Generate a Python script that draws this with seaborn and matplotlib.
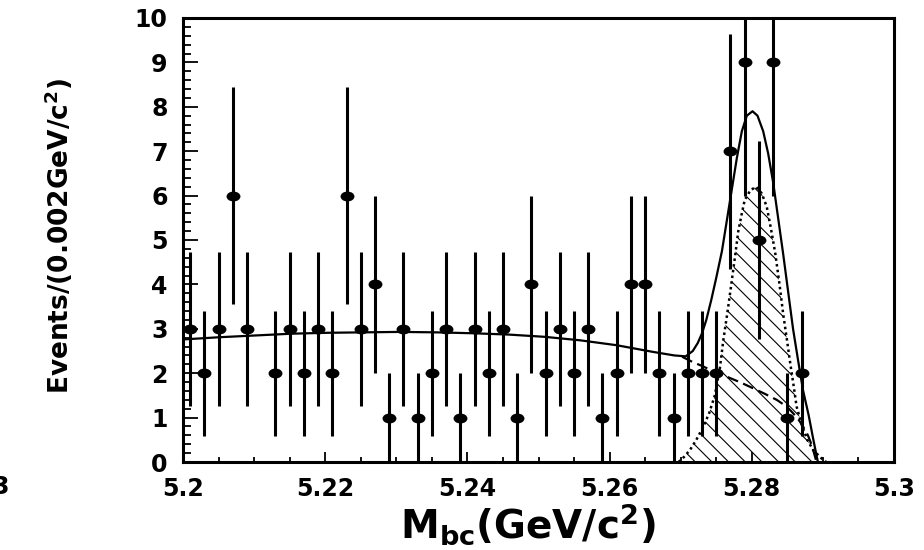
import numpy as np
import pandas as pd
import matplotlib
matplotlib.use("Agg")
import matplotlib.pyplot as plt
import seaborn as sns
from matplotlib.path import Path
from matplotlib.transforms import Affine2D
from matplotlib.ticker import MultipleLocator

# ---------------- data ----------------
mbc = [5.201, 5.203, 5.205, 5.207, 5.209, 5.213, 5.215, 5.217, 5.219, 5.221,
       5.223, 5.225, 5.227, 5.229, 5.231, 5.233, 5.235, 5.237, 5.239, 5.241,
       5.243, 5.245, 5.247, 5.249, 5.251, 5.253, 5.255, 5.257, 5.259, 5.261,
       5.263, 5.265, 5.267, 5.269, 5.271, 5.273, 5.275, 5.277, 5.279, 5.281,
       5.283, 5.285, 5.287]
counts = [3, 2, 3, 6, 3, 2, 3, 2, 3, 2,
          6, 3, 4, 1, 3, 1, 2, 3, 1, 3,
          2, 3, 1, 4, 2, 3, 2, 3, 1, 2,
          4, 4, 2, 1, 2, 2, 2, 7, 9, 5,
          9, 1, 2]
errors = [1.73, 1.41, 1.73, 2.45, 1.73, 1.41, 1.73, 1.41, 1.73, 1.41,
          2.45, 1.73, 2.0, 1.0, 1.73, 1.0, 1.41, 1.73, 1.0, 1.73,
          1.41, 1.73, 1.0, 2.0, 1.41, 1.73, 1.41, 1.73, 1.0, 1.41,
          2.0, 2.0, 1.41, 1.0, 1.41, 1.41, 1.41, 2.65, 3.0, 2.24,
          3.0, 1.0, 1.41]

# total fit (solid)
fit_x = [5.2000, 5.2051, 5.2102, 5.2153, 5.2203, 5.2254, 5.2305, 5.2356, 5.2407, 5.2458,
         5.2508, 5.2559, 5.2610, 5.2661, 5.2691, 5.2707, 5.2717, 5.2724, 5.2730, 5.2736,
         5.2743, 5.2750, 5.2758, 5.2765, 5.2772, 5.2779, 5.2786, 5.2793, 5.2801, 5.2808,
         5.2816, 5.2823, 5.2830, 5.2837, 5.2844, 5.2851, 5.2858, 5.2865, 5.2872, 5.2880,
         5.2886, 5.2891, 5.2893]
fit_y = [2.76, 2.81, 2.85, 2.89, 2.91, 2.92, 2.93, 2.92, 2.90, 2.87,
         2.82, 2.74, 2.63, 2.48, 2.40, 2.38, 2.50, 2.68, 2.90, 3.20,
         3.65, 4.15, 4.75, 5.45, 6.15, 6.85, 7.45, 7.80, 7.90, 7.80,
         7.45, 6.95, 6.30, 5.50, 4.70, 3.85, 3.00, 2.30, 1.62, 1.05,
         0.55, 0.15, 0.0]

# background under the peak (dashed)
bkg_x = [5.2702, 5.2717, 5.2732, 5.2747, 5.2765, 5.2783, 5.2802, 5.2819, 5.2835,
         5.2849, 5.2858, 5.2866, 5.2872, 5.2879, 5.2885, 5.2891]
bkg_y = [2.37, 2.25, 2.15, 2.03, 1.92, 1.80, 1.66, 1.53, 1.40,
         1.25, 1.10, 0.95, 0.80, 0.60, 0.35, 0.0]

# signal component (hatched, dotted outline)
sig_x = [5.2697, 5.2705, 5.2713, 5.2722, 5.2732, 5.2740, 5.2748, 5.2755, 5.2760,
         5.2766, 5.2772, 5.2777, 5.2781, 5.2786, 5.2790, 5.2798, 5.2806, 5.2814,
         5.2821, 5.2827, 5.2833, 5.2839, 5.2844, 5.2849, 5.2854, 5.2859, 5.2863,
         5.2870, 5.2878, 5.2887, 5.2896, 5.2901, 5.2905]
sig_y = [0.0, 0.12, 0.27, 0.50, 0.80, 1.10, 1.50, 2.10, 2.75,
         3.40, 4.10, 4.70, 5.20, 5.60, 5.90, 6.12, 6.20, 6.05,
         5.75, 5.25, 4.70, 4.00, 3.35, 2.80, 2.23, 1.70, 1.25,
         0.85, 0.50, 0.25, 0.12, 0.03, 0.0]

xtick_vals = [5.20, 5.22, 5.24, 5.26, 5.28, 5.30]
xtick_labels = ["5.2", "5.22", "5.24", "5.26", "5.28", "5.3"]
ytick_vals = [0, 1, 2, 3, 4, 5, 6, 7, 8, 9, 10]
ytick_labels = ["0", "1", "2", "3", "4", "5", "6", "7", "8", "9", "10"]

# ---------------- style ----------------
sns.set_theme(style="ticks")
plt.rcParams["font.family"] = ["DejaVu Sans"]
plt.rcParams["font.weight"] = "bold"
plt.rcParams["mathtext.fontset"] = "dejavusans"
plt.rcParams["mathtext.default"] = "bf"
plt.rcParams["hatch.linewidth"] = 0.8
plt.rcParams["hatch.color"] = "black"
plt.rcParams["text.color"] = "black"
plt.rcParams["axes.labelcolor"] = "black"
plt.rcParams["xtick.color"] = "black"
plt.rcParams["ytick.color"] = "black"
plt.rcParams["axes.edgecolor"] = "black"

fig = plt.figure(figsize=(9.24, 5.5), dpi=100)
fig.patch.set_facecolor("white")
ax = fig.add_axes([183 / 924, 1 - 462 / 550, 711 / 924, 444 / 550])
ax.set_facecolor("white")

df_pts = pd.DataFrame({"mbc": mbc, "n": counts, "err": errors})
df_fit = pd.DataFrame({"x": fit_x, "y": fit_y})
df_bkg = pd.DataFrame({"x": bkg_x, "y": bkg_y})
df_sig = pd.DataFrame({"x": sig_x, "y": sig_y})

# hatched signal area
ax.fill_between(df_sig["x"], df_sig["y"], 0, facecolor="none", edgecolor="black",
                hatch="\\\\", linewidth=0, zorder=1)
sns.lineplot(data=df_sig, x="x", y="y", ax=ax, color="black", lw=1.8,
             linestyle=(0, (1, 1.3)), sort=False, estimator=None, zorder=2)
sns.lineplot(data=df_bkg, x="x", y="y", ax=ax, color="black", lw=1.6,
             linestyle=(0, (5, 2.5)), sort=False, estimator=None, zorder=2)
sns.lineplot(data=df_fit, x="x", y="y", ax=ax, color="black", lw=1.6,
             sort=False, estimator=None, zorder=2)

# error bars and points
ax.errorbar(df_pts["mbc"], df_pts["n"], yerr=df_pts["err"], fmt="none",
            ecolor="black", elinewidth=2.2, capsize=0, zorder=3)
ellipse = Path.unit_circle().transformed(Affine2D().scale(1.4, 1.0))
sns.scatterplot(data=df_pts, x="mbc", y="n", ax=ax, marker=ellipse, s=100,
                color="black", edgecolor="black", linewidth=0, zorder=4)

# axes
ax.set_xlim(5.2, 5.3)
ax.set_ylim(0, 10)
ax.set_xticks(xtick_vals, labels=xtick_labels)
ax.set_yticks(ytick_vals, labels=ytick_labels)
ax.xaxis.set_minor_locator(MultipleLocator(0.005))
ax.yaxis.set_minor_locator(MultipleLocator(0.2))
ax.tick_params(axis="both", which="both", direction="in", top=False, right=False,
               colors="black", width=1.3)
ax.tick_params(axis="y", which="major", length=11, pad=11, labelsize=17)
ax.tick_params(axis="y", which="minor", length=6)
ax.tick_params(axis="x", which="major", length=7, pad=11, labelsize=17)
ax.tick_params(axis="x", which="minor", length=3.6)
for lab in ax.get_xticklabels() + ax.get_yticklabels():
    lab.set_fontweight("bold")
for sp in ax.spines.values():
    sp.set_linewidth(2.2)
    sp.set_color("black")

ax.set_xlabel(r"M$_{\mathbf{bc}}$(GeV/c$^{\mathbf{2}}$)", fontsize=28,
              fontweight="bold", color="black")
ax.xaxis.set_label_coords(0.485, -0.09)
ax.set_ylabel(r"Events/(0.002GeV/c$^{\mathbf{2}}$)", fontsize=19,
              fontweight="bold", color="black")
ax.yaxis.set_label_coords(-0.152, 0.51)

# clipped tick label of the neighbouring panel
fig.text(-8 / 924, 1 - 487 / 550, "3", fontsize=17, fontweight="bold",
         ha="left", va="center", color="black")

fig.savefig("out.png", dpi=100, facecolor="white")
